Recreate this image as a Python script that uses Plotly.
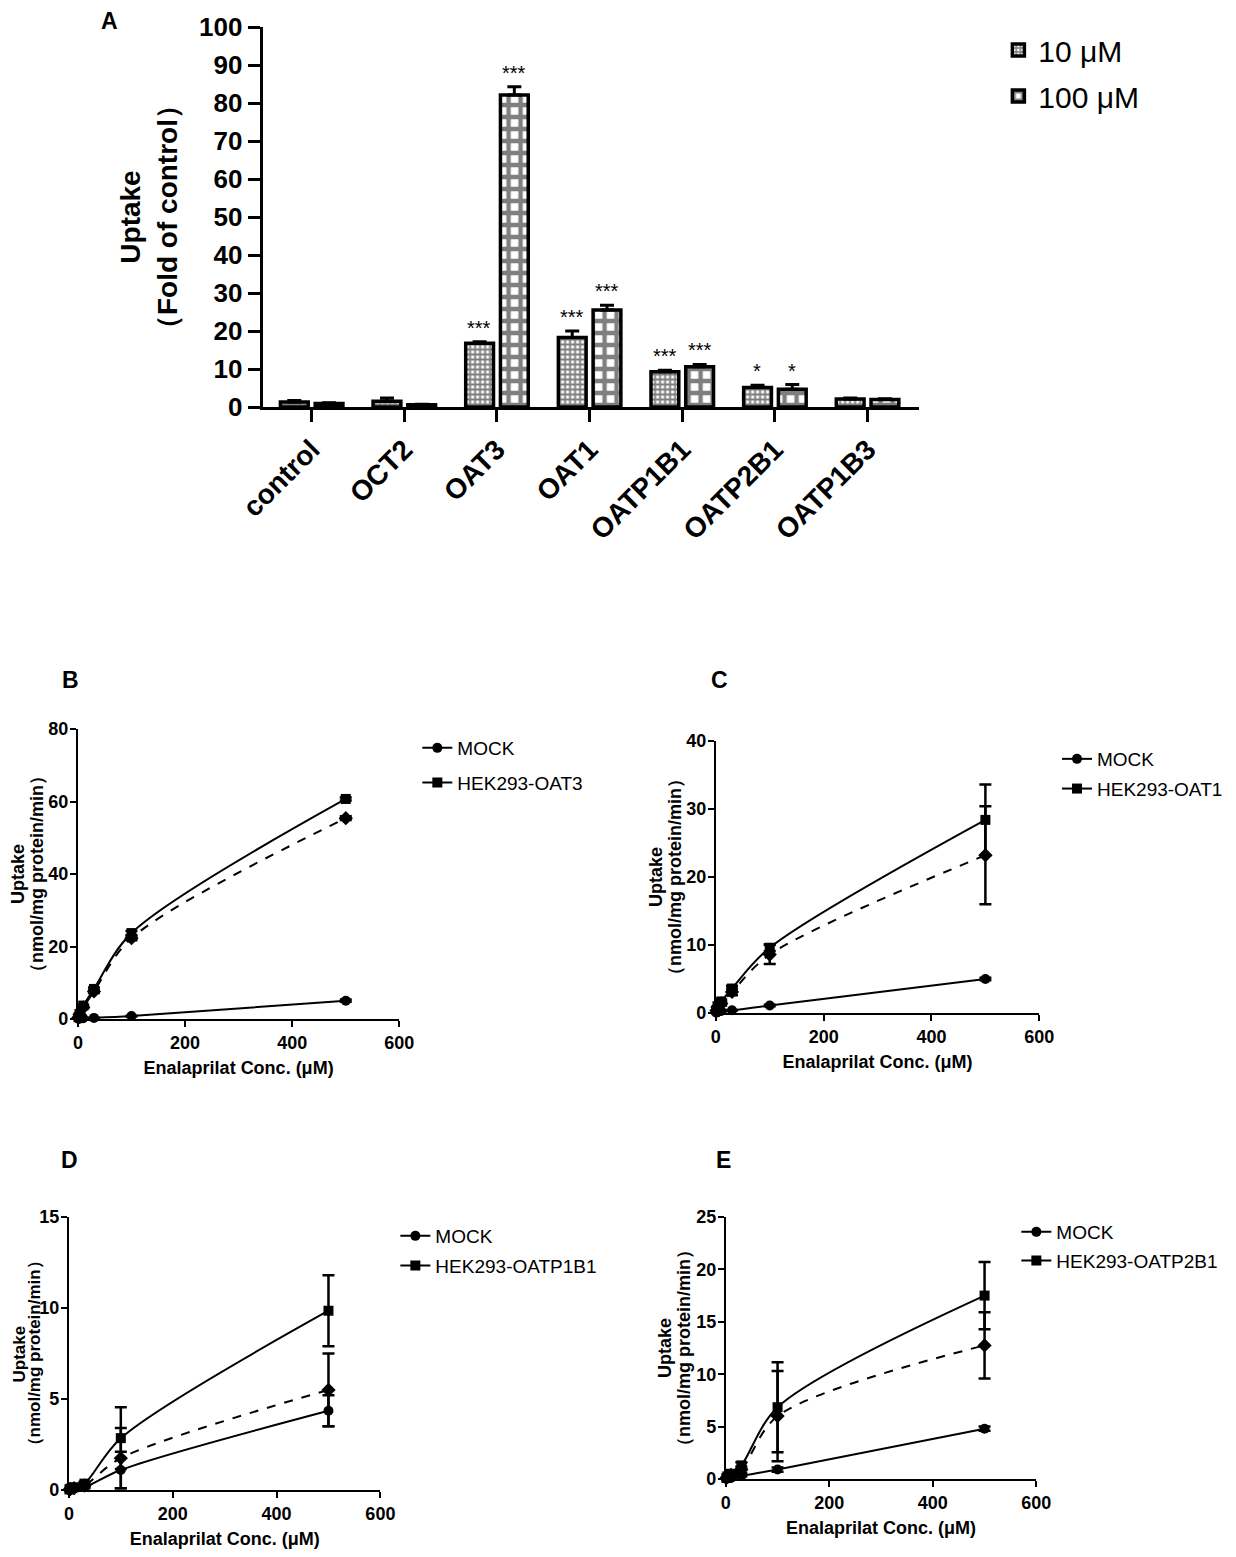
import plotly.graph_objects as go

# ---- panel A: uptake of enalaprilat in transporter-expressing cells ----
transporters = ['control', 'OCT2', 'OAT3', 'OAT1', 'OATP1B1', 'OATP2B1', 'OATP1B3']
uptake_10 = [1.3, 1.5, 16.8, 18.3, 9.3, 5.1, 2.1]
err_10 = [0.4, 0.9, 0.4, 1.7, 0.4, 0.6, 0.3]
uptake_100 = [0.9, 0.6, 82.1, 25.5, 10.6, 4.7, 2.0]
err_100 = [0.2, 0.1, 2.2, 1.3, 0.6, 1.2, 0.2]
stars_10 = ['', '', '***', '***', '***', '*', '']
stars_100 = ['', '', '***', '***', '***', '*', '']

# ---- panels B-E: concentration dependence (uM) ----
conc = [1, 3, 10, 30, 100, 500]

b_mock = [0.05, 0.1, 0.2, 0.3, 0.8, 5.05]
b_mock_err = [0.01, 0.02, 0.05, 0.05, 0.1, 0.3]
b_cell = [0.5, 1.4, 3.7, 8.3, 23.7, 60.7]
b_cell_err = [0.05, 0.1, 0.2, 0.4, 0.6, 0.4]
b_net = [0.4, 1.2, 3.2, 7.6, 22.3, 55.4]
b_net_err = [0.05, 0.1, 0.2, 0.4, 0.6, 0.5]

c_mock = [0.05, 0.15, 0.3, 0.4, 1.1, 5.0]
c_mock_err = [0.01, 0.02, 0.05, 0.05, 0.1, 0.2]
c_cell = [0.4, 1.0, 1.7, 3.6, 9.6, 28.4]
c_cell_err = [0.1, 0.2, 0.3, 0.4, 0.5, 5.2]
c_net = [0.35, 0.85, 1.4, 3.1, 8.6, 23.2]
c_net_err = [0.1, 0.2, 0.3, 0.5, 1.4, 7.2]

d_mock = [0.02, 0.05, 0.08, 0.15, 1.1, 4.35]
d_mock_err = [0.01, 0.02, 0.03, 0.05, 1.0, 0.85]
d_cell = [0.03, 0.08, 0.15, 0.35, 2.85, 9.85]
d_cell_err = [0.01, 0.02, 0.05, 0.1, 1.7, 1.95]
d_net = [0.02, 0.06, 0.1, 0.25, 1.75, 5.5]
d_net_err = [0.01, 0.02, 0.05, 0.1, 1.65, 2.0]

e_mock = [0.03, 0.06, 0.1, 0.3, 0.9, 4.8]
e_mock_err = [0.01, 0.02, 0.03, 0.05, 0.2, 0.2]
e_cell = [0.1, 0.25, 0.5, 1.3, 6.85, 17.5]
e_cell_err = [0.05, 0.1, 0.2, 0.3, 4.3, 3.2]
e_net = [0.08, 0.2, 0.4, 0.9, 6.0, 12.75]
e_net_err = [0.05, 0.1, 0.2, 0.3, 4.3, 3.15]

# the figure sits inside the page's 8px body margin, so keep it
# small enough that nothing overflows the window
FW, FH, OFF = 1220, 1541, 8
BOLD = 'Liberation Sans, Arial, sans-serif'


def fx(p):
    return (p - OFF) / FW


def fy(p):
    return 1 - (p - OFF) / FH


fig = go.Figure()

# bars with upward-only error bars
for vals, errs, name, psize, sol in [(uptake_10, err_10, '10 μM', 5, 0.65),
                                     (uptake_100, err_100, '100 μM', 12, 0.6)]:
    fig.add_trace(go.Bar(
        x=transporters, y=vals, name=name,
        legend='legend', legendgroup=name,
        marker=dict(color='white', line=dict(color='black', width=3.5),
                    pattern=dict(shape='+', fgcolor='black', bgcolor='white',
                                 size=psize, solidity=sol)),
        error_y=dict(type='data', array=errs, arrayminus=[0] * len(errs),
                     symmetric=False, color='black', thickness=3, width=7),
        xaxis='x', yaxis='y',
    ))

panels = [
    ('2', 'HEK293-OAT3', b_mock, b_mock_err, b_cell, b_cell_err, b_net, b_net_err),
    ('3', 'HEK293-OAT1', c_mock, c_mock_err, c_cell, c_cell_err, c_net, c_net_err),
    ('4', 'HEK293-OATP1B1', d_mock, d_mock_err, d_cell, d_cell_err, d_net, d_net_err),
    ('5', 'HEK293-OATP2B1', e_mock, e_mock_err, e_cell, e_cell_err, e_net, e_net_err),
]

for k, cell_name, mock, mock_err, cell, cell_err, net, net_err in panels:
    common = dict(x=conc, xaxis='x' + k, yaxis='y' + k, legend='legend' + k,
                  mode='lines+markers', cliponaxis=False)
    fig.add_trace(go.Scatter(
        y=net, name='Net uptake', showlegend=False,
        line=dict(color='black', width=2, dash='dash', shape='spline', smoothing=0.9),
        marker=dict(symbol='diamond', size=11, color='black'),
        error_y=dict(type='data', array=net_err, color='black', thickness=2.5, width=6),
        **common))
    fig.add_trace(go.Scatter(
        y=mock, name='MOCK', legendgroup='mock' + k,
        line=dict(color='black', width=2, shape='spline', smoothing=0.9),
        marker=dict(symbol='circle', size=10, color='black'),
        error_y=dict(type='data', array=mock_err, color='black', thickness=2.5, width=6),
        **common))
    fig.add_trace(go.Scatter(
        y=cell, name=cell_name, legendgroup='cell' + k,
        line=dict(color='black', width=2, shape='spline', smoothing=0.9),
        marker=dict(symbol='square', size=10, color='black'),
        error_y=dict(type='data', array=cell_err, color='black', thickness=2.5, width=6),
        **common))

# ---- axes ----
axis_a = dict(showline=True, linecolor='black', linewidth=3, ticks='outside',
              ticklen=12, tickwidth=3, tickcolor='black', showgrid=False,
              zeroline=False, automargin=False, fixedrange=True)
layout = dict(
    width=FW, height=FH, margin=dict(l=0, r=0, t=0, b=0),
    paper_bgcolor='white', plot_bgcolor='white',
    bargap=0.25, bargroupgap=0.2, barmode='group',
    xaxis=dict(domain=[fx(263), fx(920)], anchor='y', type='category',
               range=[-0.53, 6.55], tickangle=-45,
               tickfont=dict(family=BOLD, size=28, color='black', weight='bold'),
               **axis_a),
    yaxis=dict(domain=[fy(407), fy(27)], anchor='x', range=[0, 100], dtick=10,
               tickfont=dict(family=BOLD, size=26, color='black', weight='bold'),
               title=dict(text='Uptake<br>（Fold of control）', standoff=14,
                          font=dict(family=BOLD, size=28, color='black', weight='bold')),
               **axis_a),
)

axis_s = dict(showline=True, linecolor='black', linewidth=2, ticks='outside',
              ticklen=6, tickwidth=2, tickcolor='black', showgrid=False,
              zeroline=False, automargin=False, fixedrange=True,
              tickfont=dict(family=BOLD, size=18, color='black', weight='bold'))
xtitle = dict(text='Enalaprilat Conc. (μM)', standoff=10,
              font=dict(family=BOLD, size=18, color='black', weight='bold'))

boxes = {
    '2': ((78, 400), (729, 1019), 80, 20),
    '3': ((717, 1041), (741, 1013), 40, 10),
    '4': ((69, 381), (1217, 1490), 15, 5),
    '5': ((727, 1038), (1217, 1479), 25, 5),
}
for k, ((x0, x1), (y0, y1), ymax, dy) in boxes.items():
    layout['xaxis' + k] = dict(domain=[fx(x0), fx(x1)], anchor='y' + k, range=[0, 600],
                               dtick=200, title=xtitle, **axis_s)
    layout['yaxis' + k] = dict(domain=[fy(y1), fy(y0)], anchor='x' + k, range=[0, ymax],
                               dtick=dy, ticklabelstandoff=-2, **axis_s)

# ---- legends ----
layout['legend'] = dict(x=fx(1000), y=fy(24), xanchor='left', yanchor='top',
                        font=dict(family=BOLD, size=30, color='black'),
                        tracegroupgap=4, bgcolor='rgba(0,0,0,0)')
for k, lx, ly, gap in [('2', 418, 729, 7), ('3', 1059, 740, 2),
                       ('4', 396, 1217, 2), ('5', 1018, 1213, 1)]:
    layout['legend' + k] = dict(x=fx(lx), y=fy(ly), xanchor='left', yanchor='top',
                                font=dict(family=BOLD, size=19, color='black'),
                                tracegroupgap=gap, itemwidth=30, bgcolor='rgba(0,0,0,0)')

fig.update_layout(**layout)

# ---- y titles of panels B-E, one line each (offsets left of the axis) ----
title_offsets = {'2': (60, 41), '3': (60, 41), '4': (49, 34), '5': (61, 42)}
title_sizes = {'2': 18, '3': 18, '4': 17, '5': 18}
for k, ((x0, x1), (y0, y1), ymax, dy) in boxes.items():
    for text, dx in zip(['Uptake', '（nmol/mg protein/min）'], title_offsets[k]):
        fig.add_annotation(x=fx(x0 - dx), y=fy((y0 + y1) / 2), xref='paper', yref='paper',
                           xanchor='center', yanchor='middle', textangle=-90,
                           text=text, showarrow=False,
                           font=dict(family=BOLD, size=title_sizes[k], color='black',
                                     weight='bold'))

# ---- significance stars ----
for vals, errs, stars, shift in [(uptake_10, err_10, stars_10, -17.5),
                                 (uptake_100, err_100, stars_100, 17.5)]:
    for cat, v, e, s in zip(transporters, vals, errs, stars):
        if s:
            fig.add_annotation(x=cat, y=v + e, xref='x', yref='y', text=s,
                               showarrow=False, xshift=shift, yshift=1,
                               yanchor='bottom',
                               font=dict(family=BOLD, size=20, color='black'))

# ---- panel letters ----
for letter, lx, ly in [('A', 110, 21), ('B', 71, 680), ('C', 721, 680),
                       ('D', 70, 1160), ('E', 725, 1160)]:
    fig.add_annotation(x=fx(lx), y=fy(ly), xref='paper', yref='paper',
                       xanchor='center', yanchor='middle',
                       text=letter, showarrow=False,
                       font=dict(family=BOLD, size=23, color='black', weight='bold'))

fig.write_html('out.html')
